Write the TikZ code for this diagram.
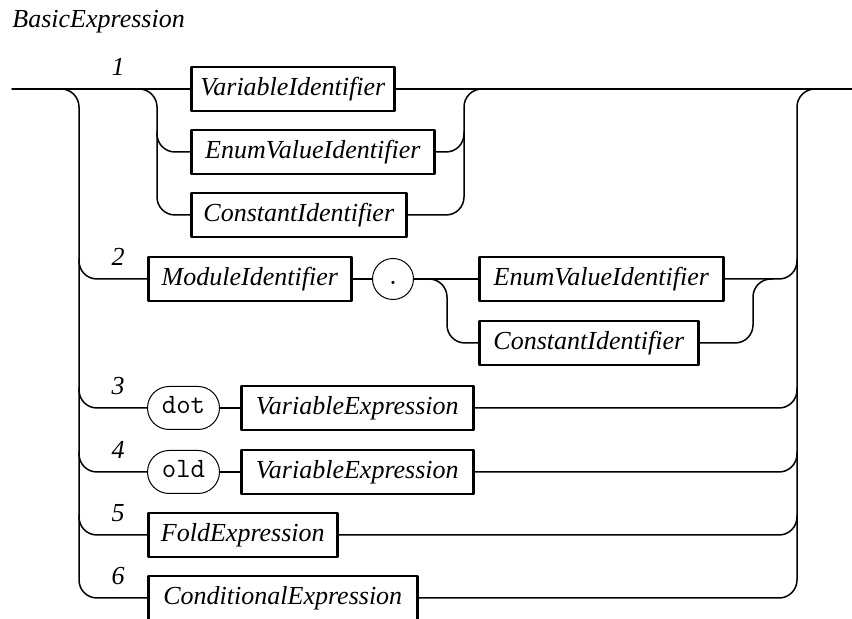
\documentclass[tikz,border=0pt]{standalone}
\usepackage{fontspec}
\setmainfont{Liberation Serif}
\begin{document}
\begin{tikzpicture}[x=0.5pt,y=-0.5pt,line join=round,line cap=round,
  font=\fontsize{13}{15}\selectfont\itshape,
  rail/.style={line width=0.75pt,rounded corners=9pt},
  nonterm/.style={draw,line width=1.3pt,minimum height=22pt,inner sep=0pt,anchor=west},
  term/.style={draw,line width=0.5pt,minimum height=21.5pt,minimum width=36pt,inner sep=0pt,
    text height=1.6ex,text depth=0.3ex,
    rounded corners=10.75pt,anchor=west,font=\fontsize{14}{16}\selectfont\ttfamily}]
\useasboundingbox (0,0) rectangle (852,619);
\def \xl{79};
\def \xr{797};
\node[anchor=base west,inner sep=0pt] (title) at (12,28) {BasicExpression};
\coordinate (in) at (12,89);
\coordinate (out) at (852,89);
\coordinate (ltop) at (\xl,89);
\coordinate (lbot) at (\xl,598);
\coordinate (rtop) at (\xr,89);
\coordinate (rbot) at (\xr,598);
\foreach \n/\y in {1/89,2/279,3/408,4/472,5/535,6/598}{\node (alt\n) at (118,\y-22) {\n};}
% alternative 1
\node[nonterm,minimum width=101.5pt] (varid) at (190,89) {VariableIdentifier};
\node[nonterm,minimum width=121.5pt] (enumid) at (190,152) {EnumValueIdentifier};
\node[nonterm,minimum width=107.5pt] (constid) at (190,215) {ConstantIdentifier};
\coordinate (ilt) at (157,89);
\coordinate (irt) at (464,89);
% alternative 2
\node[nonterm,minimum width=101.5pt] (modid) at (147,279) {ModuleIdentifier};
\node[term,circle,minimum size=20.5pt,rounded corners=0pt] (dotsym) at (372,279) {.};
\node[nonterm,minimum width=122pt] (enumidb) at (478,279) {EnumValueIdentifier};
\node[nonterm,minimum width=109.5pt] (constidb) at (478,343) {ConstantIdentifier};
\coordinate (slt) at (447,279);
\coordinate (srt) at (753,279);
% alternatives 3 to 6
\node[term] (kwdot) at (147,408) {dot};
\node[nonterm,minimum width=116pt] (varexpra) at (240,408) {VariableExpression};
\node[term] (kwold) at (147,472) {old};
\node[nonterm,minimum width=116pt] (varexprb) at (240,472) {VariableExpression};
\node[nonterm,minimum width=94.5pt] (foldexpr) at (147,535) {FoldExpression};
\node[nonterm,minimum width=134.5pt] (condexpr) at (147,598) {ConditionalExpression};
% main line and outer brackets
\draw[rail] (in) -- (varid.west);
\draw[rail] (varid.east) -- (out);
\draw[rail] (ltop) ++(-20,0) -- (ltop) -- (lbot) -- (condexpr.west);
\draw[rail] (rtop) ++(20,0) -- (rtop) -- (rbot) -- (condexpr.east);
\foreach \a/\b in {modid/enumidb,kwdot/varexpra,kwold/varexprb,foldexpr/foldexpr}{
  \draw[rail] (\a.west) -- (\a.west -| ltop) -- ++(0,-20);
  \draw[rail] (\b.east) -- (\b.east -| rtop) -- ++(0,-20);}
% inner brackets
\draw[rail] (ilt) ++(-20,0) -- (ilt) -- (ilt |- constid.west) -- (constid.west);
\draw[rail] (enumid.west) -- (enumid.west -| ilt) -- ++(0,-20);
\draw[rail] (irt) ++(20,0) -- (irt) -- (irt |- constid.east) -- (constid.east);
\draw[rail] (enumid.east) -- (enumid.east -| irt) -- ++(0,-20);
\draw[rail] (modid) -- (dotsym);
\draw[rail] (dotsym) -- (enumidb);
\draw[rail] (slt) ++(-20,0) -- (slt) -- (slt |- constidb.west) -- (constidb.west);
\draw[rail] (constidb.east) -- (constidb.east -| srt) -- (srt) -- ++(20,0);
\draw[rail] (kwdot) -- (varexpra);
\draw[rail] (kwold) -- (varexprb);
\end{tikzpicture}
\end{document}
